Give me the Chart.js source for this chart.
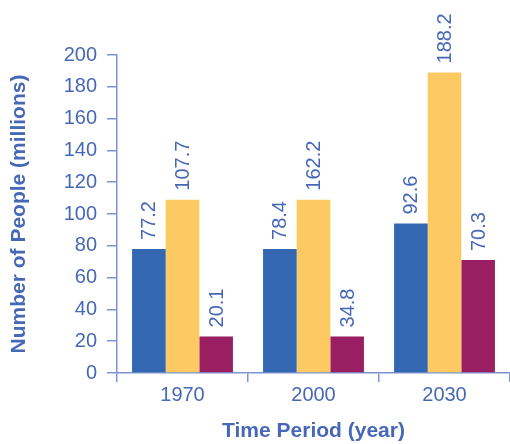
<!DOCTYPE html>
<html>
<head>
<meta charset="utf-8">
<script src="https://cdn.jsdelivr.net/npm/chart.js@4/dist/chart.umd.min.js"></script>
<style>
  html, body { margin: 0; padding: 0; background: #ffffff; }
  #wrap { width: 510px; height: 444px; position: relative; }
</style>
</head>
<body>
<div id="wrap"><canvas id="chart"></canvas></div>
<script>
// Categories and values
const years = ['1970', '2000', '2030'];
const seriesNames = ['Series A', 'Series B', 'Series C'];
// bar heights as drawn in the picture
const blueBars = [78, 78, 94];
const orangeBars = [109, 109, 189];
const purpleBars = [23, 23, 71];
// value labels as printed above the bars
const blueLabels = ['77.2', '78.4', '92.6'];
const orangeLabels = ['107.7', '162.2', '188.2'];
const purpleLabels = ['20.1', '34.8', '70.3'];
const yTicks = [0, 20, 40, 60, 80, 100, 120, 140, 160, 180, 200];

const textBlue = '#4668b6';
const axisBlue = '#7d94d0';
const fontFamily = '"Liberation Sans", Arial, sans-serif';

// rotated value labels above each bar
const barLabels = {
  id: 'barLabels',
  afterDatasetsDraw(chart) {
    const ctx = chart.ctx;
    ctx.save();
    ctx.font = '20px ' + fontFamily;
    ctx.fillStyle = textBlue;
    ctx.textAlign = 'left';
    ctx.textBaseline = 'middle';
    chart.data.datasets.forEach((ds, i) => {
      const meta = chart.getDatasetMeta(i);
      meta.data.forEach((bar, j) => {
        ctx.save();
        ctx.translate(bar.x + 1, bar.y - 9);
        ctx.rotate(-Math.PI / 2);
        ctx.fillText(ds.valueLabels[j], 0, 0);
        ctx.restore();
      });
    });
    ctx.restore();
  }
};

new Chart(document.getElementById('chart'), {
  type: 'bar',
  data: {
    labels: years,
    datasets: [
      { label: seriesNames[0], data: blueBars, valueLabels: blueLabels, backgroundColor: '#3467b1' },
      { label: seriesNames[1], data: orangeBars, valueLabels: orangeLabels, backgroundColor: '#fdc962' },
      { label: seriesNames[2], data: purpleBars, valueLabels: purpleLabels, backgroundColor: '#991f62' }
    ]
  },
  options: {
    responsive: true,
    maintainAspectRatio: false,
    animation: false,
    events: [],
    layout: { padding: { top: 55, right: 0, bottom: 0, left: 0 } },
    datasets: {
      bar: { barPercentage: 1, categoryPercentage: 0.77, borderWidth: 0 }
    },
    plugins: {
      legend: { display: false },
      tooltip: { enabled: false }
    },
    scales: {
      x: {
        afterFit: (s) => { s.height = 71; },
        grid: {
          offset: true,
          drawOnChartArea: false,
          color: axisBlue,
          tickLength: 9,
          lineWidth: 1.5
        },
        border: { color: axisBlue, width: 1.5 },
        ticks: {
          color: textBlue,
          padding: 1,
          font: { family: fontFamily, size: 20 }
        },
        title: {
          display: true,
          text: 'Time Period (year)',
          color: textBlue,
          padding: { top: 0, bottom: 0 },
          font: { family: fontFamily, size: 21, weight: 'bold' }
        }
      },
      y: {
        min: 0,
        max: 200,
        afterFit: (s) => { s.width = 117; },
        afterBuildTicks: (s) => { s.ticks = yTicks.map(v => ({ value: v })); },
        grid: {
          drawOnChartArea: false,
          color: axisBlue,
          tickLength: 10,
          lineWidth: 1.5
        },
        border: { color: axisBlue, width: 1.5 },
        ticks: {
          color: textBlue,
          padding: 10,
          font: { family: fontFamily, size: 20 }
        },
        title: {
          display: true,
          text: 'Number of People (millions)',
          color: textBlue,
          padding: { top: 7, bottom: 0 },
          font: { family: fontFamily, size: 21, weight: 'bold' }
        }
      }
    }
  },
  plugins: [barLabels]
});
</script>
</body>
</html>
